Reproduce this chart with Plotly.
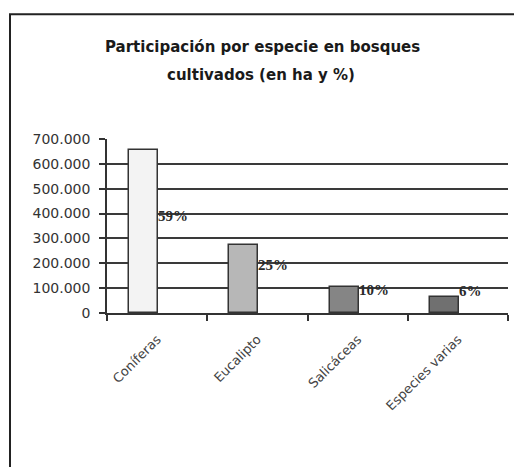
import plotly.graph_objects as go

categories = ["Coníferas", "Eucalipto", "Salicáceas", "Especies varias"]
hectares = [657000, 275000, 106000, 66000]
pct_labels = ["59%", "25%", "10%", "6%"]
pct_label_y = [389000, 193000, 92000, 90000]
bar_colors = ["#f3f3f3", "#b7b7b7", "#858585", "#707070"]
y_ticks = [0, 100000, 200000, 300000, 400000, 500000, 600000, 700000]

fig = go.Figure()
fig.add_trace(go.Bar(
    x=categories, y=hectares,
    marker=dict(color=bar_colors, line=dict(color="#333333", width=1.5)),
    offset=-0.28, width=0.29,
    hoverinfo="skip",
))

annotations = []
for c, t, yv in zip(categories, pct_labels, pct_label_y):
    annotations.append(dict(
        x=c, y=yv, xref="x", yref="y", text="<b>" + t + "</b>", showarrow=False,
        xanchor="left", yanchor="middle", xshift=-1,
        font=dict(family="Liberation Serif", size=15, color="#2a2a2a"),
    ))

plot_h = 313.5 - 139
def py(ypix):
    return (313.5 - ypix) / plot_h

annotations.append(dict(
    text="<b>Participación por especie en bosques</b>", xref="paper", yref="paper",
    x=(262 - 107) / 401, y=py(47), showarrow=False, xanchor="center", yanchor="middle",
    font=dict(family="DejaVu Sans", size=15, color="#1a1a1a"),
))
annotations.append(dict(
    text="<b>cultivados (en ha y %)</b>", xref="paper", yref="paper",
    x=(261 - 107) / 401, y=py(75), showarrow=False, xanchor="center", yanchor="middle",
    font=dict(family="DejaVu Sans", size=15, color="#1a1a1a"),
))

fig.update_layout(
    width=514, height=467,
    margin=dict(l=107, r=6, t=139, b=153.5, autoexpand=False),
    paper_bgcolor="white", plot_bgcolor="white",
    separators=",.",
    showlegend=False,
    bargap=0,
    annotations=annotations,
    shapes=[dict(
        type="rect", xref="paper", yref="paper",
        x0=(10 - 107) / 401, x1=(530 - 107) / 401,
        y0=py(490), y1=py(14),
        line=dict(color="#222222", width=2), fillcolor="rgba(0,0,0,0)", layer="below",
    )],
)
fig.update_xaxes(
    type="category", tickson="boundaries", ticks="outside", ticklen=6,
    tickcolor="#333333", tickwidth=1.5,
    showline=True, linecolor="#333333", linewidth=1.5,
    tickangle=-45, showgrid=False, ticklabelstandoff=12,
    tickfont=dict(family="DejaVu Sans", size=13, color="#444444"),
)
fig.update_yaxes(
    range=[0, 700000], tickvals=y_ticks, tickformat=",.0f",
    ticks="outside", ticklen=6, tickcolor="#333333", tickwidth=1.5,
    showline=True, linecolor="#333333", linewidth=1.5,
    showgrid=True, gridcolor="#3a3a3a", gridwidth=1.5, zeroline=False,
    ticklabelstandoff=6,
    tickfont=dict(family="DejaVu Sans", size=14, color="#333333"),
)

fig.write_html("out.html", config={"displayModeBar": False},
               post_script="document.body.style.margin='0';document.body.style.overflow='hidden';")
